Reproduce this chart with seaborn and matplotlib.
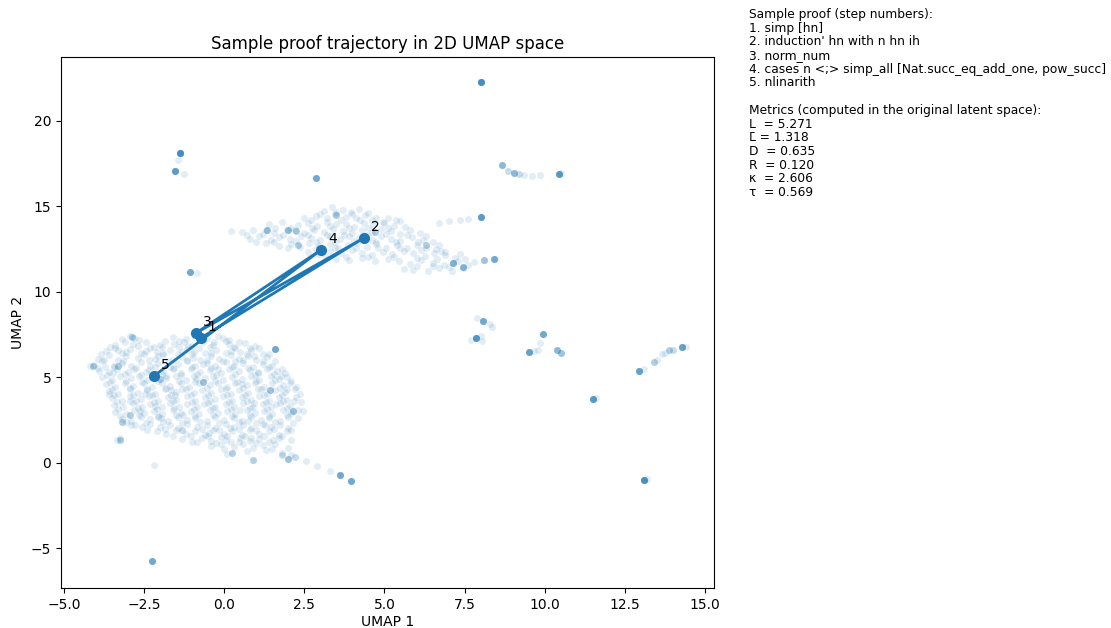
import numpy as np
import pandas as pd
import matplotlib
matplotlib.use("Agg")
import matplotlib.pyplot as plt
import seaborn as sns

# ---------------------------------------------------------------
# Embedded proof-state cloud (2D UMAP coordinates)
# ---------------------------------------------------------------
# Large lower-left cluster
cluster_lower = [
    (-2.95, 7.45), (-2.8, 7.3), (-1.6, 7.35), (-1.2, 7.25), (-0.9, 7.5), (-0.55, 7.3), (-0.2, 7.4), (0.15, 7.2),
    (-3.4, 6.9), (-3.1, 7.1), (-2.85, 6.95), (-2.45, 7.05), (-2.2, 6.8), (-1.85, 7.15), (-1.55, 6.95), (-1.25, 7.1),
    (-1.0, 6.85), (-0.65, 7.05), (-0.35, 6.9), (0.05, 7.15), (0.3, 6.8), (0.65, 7.0), (0.95, 6.85),
    (-3.7, 6.55), (-3.4, 6.75), (-3.2, 6.45), (-2.95, 6.65), (-2.6, 6.45), (-2.3, 6.75), (-2.1, 6.5), (-1.7, 6.6),
    (-1.45, 6.4), (-1.15, 6.65), (-0.8, 6.7), (-0.6, 6.45), (-0.25, 6.6), (0.05, 6.45), (0.35, 6.75), (0.5, 6.5),
    (0.85, 6.6), (1.2, 6.4),
    (-3.95, 6.1), (-3.6, 6.3), (-3.3, 6.05), (-3.05, 6.25), (-2.7, 6.15), (-2.5, 6.35), (-2.15, 6.1), (-1.9, 6.3),
    (-1.6, 6.0), (-1.3, 6.2), (-1.0, 6.35), (-0.75, 6.05), (-0.4, 6.25), (-0.15, 6.1), (0.2, 6.3), (0.45, 6.1),
    (0.75, 6.25), (1.0, 6.0), (1.35, 6.2),
    (-4.05, 5.75), (-3.8, 5.95), (-3.45, 5.7), (-3.2, 5.85), (-2.9, 5.65), (-2.6, 5.9), (-2.3, 5.7), (-2.05, 5.85),
    (-1.7, 5.6), (-1.45, 5.8), (-1.15, 5.95), (-0.9, 5.7), (-0.55, 5.85), (-0.3, 5.65), (0.05, 5.9), (0.3, 5.7),
    (0.6, 5.85), (0.9, 5.6), (1.2, 5.8), (1.5, 5.7),
    (-4.2, 5.65), (-3.9, 5.4), (-3.6, 5.3), (-3.35, 5.5), (-3.0, 5.3), (-2.8, 5.5), (-2.45, 5.3), (-1.9, 5.35),
    (-1.6, 5.5), (-1.35, 5.25), (-1.05, 5.5), (-0.75, 5.3), (-0.45, 5.45), (-0.1, 5.25), (0.15, 5.5), (0.45, 5.35),
    (0.8, 5.45), (1.05, 5.25), (1.35, 5.5), (1.65, 5.35),
    (-3.8, 5.0), (-3.5, 4.85), (-3.25, 5.1), (-2.9, 4.95), (-2.65, 5.1), (-2.4, 4.85), (-1.8, 4.95), (-1.5, 5.1),
    (-1.2, 4.85), (-0.95, 5.1), (-0.6, 4.95), (-0.35, 5.1), (-0.05, 4.85), (0.25, 5.05), (0.55, 4.9), (0.85, 5.1),
    (1.1, 4.85), (1.45, 5.1), (1.7, 4.9), (1.95, 5.05),
    (-3.7, 4.6), (-3.4, 4.45), (-3.1, 4.7), (-2.85, 4.5), (-2.5, 4.65), (-2.25, 4.45), (-1.95, 4.7), (-1.7, 4.5),
    (-1.35, 4.65), (-1.1, 4.45), (-0.8, 4.7), (-0.45, 4.55), (-0.2, 4.65), (0.1, 4.45), (0.35, 4.7), (0.7, 4.55),
    (0.95, 4.65), (1.25, 4.45), (1.5, 4.7), (1.85, 4.55), (2.05, 4.65),
    (-3.6, 4.2), (-3.3, 4.05), (-2.95, 4.3), (-2.7, 4.1), (-2.4, 4.25), (-2.15, 4.05), (-1.85, 4.3), (-1.5, 4.15),
    (-1.3, 4.3), (-0.95, 4.1), (-0.7, 4.25), (-0.4, 4.1), (-0.1, 4.3), (0.2, 4.05), (0.45, 4.25), (0.75, 4.1),
    (1.05, 4.3), (1.35, 4.05), (1.6, 4.25), (1.9, 4.15), (2.2, 4.3),
    (-3.5, 3.8), (-3.2, 3.65), (-2.95, 3.9), (-2.6, 3.75), (-2.35, 3.9), (-2.05, 3.65), (-1.75, 3.85), (-1.5, 3.7),
    (-1.15, 3.9), (-0.9, 3.65), (-0.6, 3.85), (-0.3, 3.75), (-0.05, 3.9), (0.25, 3.65), (0.55, 3.85), (0.85, 3.7),
    (1.1, 3.9), (1.4, 3.65), (1.7, 3.85), (1.95, 3.7), (2.25, 3.85),
    (-3.45, 3.4), (-3.15, 3.25), (-2.85, 3.5), (-2.55, 3.3), (-2.3, 3.45), (-1.95, 3.3), (-1.7, 3.5), (-1.4, 3.3),
    (-1.15, 3.45), (-0.85, 3.25), (-0.5, 3.5), (-0.3, 3.3), (0.05, 3.45), (0.3, 3.25), (0.6, 3.5), (0.9, 3.3),
    (1.2, 3.45), (1.45, 3.25), (1.75, 3.5), (2.05, 3.35), (2.3, 3.1),
    (-3.4, 3.0), (-3.05, 2.85), (-2.8, 3.1), (-2.5, 2.9), (-2.2, 3.05), (-1.95, 2.85), (-1.6, 3.1), (-1.35, 2.9),
    (-1.05, 3.05), (-0.8, 2.85), (-0.45, 3.1), (-0.2, 2.9), (0.1, 3.05), (0.35, 2.85), (0.7, 3.1), (0.95, 2.9),
    (1.25, 3.05), (1.5, 2.85), (1.85, 3.1), (2.1, 2.95),
    (-3.2, 2.6), (-2.9, 2.45), (-2.6, 2.7), (-2.3, 2.55), (-2.05, 2.7), (-1.75, 2.45), (-1.45, 2.7), (-1.15, 2.5),
    (-0.9, 2.65), (-0.55, 2.45), (-0.3, 2.7), (0.0, 2.5), (0.3, 2.65), (0.55, 2.45), (0.85, 2.7), (1.15, 2.5),
    (1.4, 2.65), (1.75, 2.45), (2.0, 2.7),
    (-2.9, 2.25), (-2.55, 2.1), (-2.3, 2.3), (-2.0, 2.1), (-1.7, 2.25), (-1.45, 2.05), (-1.15, 2.3), (-0.85, 2.1),
    (-0.55, 2.25), (-0.3, 2.05), (0.05, 2.3), (0.3, 2.1), (0.6, 2.25), (0.85, 2.05), (1.2, 2.3), (1.45, 2.1),
    (1.75, 2.25), (2.0, 2.05),
    (-2.1, 1.85), (-1.8, 1.7), (-1.5, 1.9), (-1.2, 1.7), (-0.9, 1.85), (-0.6, 1.65), (-0.35, 1.9), (0.0, 1.7),
    (0.25, 1.85), (0.55, 1.65), (0.8, 1.9), (1.1, 1.7), (1.4, 1.85), (1.7, 1.65), (1.95, 1.85),
    (-1.3, 1.4), (-1.0, 1.25), (-0.7, 1.45), (-0.4, 1.3), (-0.1, 1.5), (0.2, 1.25), (0.5, 1.45), (0.8, 1.3),
    (1.1, 1.4), (1.4, 1.25), (1.7, 1.45),
    (-0.4, 1.0), (-0.1, 1.1), (0.1, 0.55), (0.3, 0.95), (0.6, 1.1), (0.9, 0.85), (1.2, 1.05), (1.5, 0.8),
    (1.8, 0.6), (2.1, 0.45),
    (-3.35, 1.35), (-3.25, 1.45), (-2.2, -0.1),
    # interleaved samples
    (-3.2, 7.25), (-2.65, 7.2), (-1.4, 7.15), (-0.75, 7.2), (-0.05, 7.3), (0.45, 7.1),
    (-3.55, 6.8), (-2.7, 6.85), (-2.0, 6.9), (-1.4, 6.8), (-0.45, 6.8), (0.15, 6.95), (0.8, 6.75), (1.1, 6.7),
    (-3.85, 6.4), (-3.3, 6.6), (-2.45, 6.55), (-1.9, 6.45), (-1.3, 6.5), (-0.95, 6.5), (-0.4, 6.45), (0.2, 6.55),
    (0.7, 6.4), (1.4, 6.35),
    (-3.75, 6.05), (-3.15, 5.95), (-2.35, 6.0), (-1.75, 5.95), (-1.15, 6.05), (-0.55, 6.0), (-0.05, 5.95),
    (0.6, 6.05), (1.2, 5.95), (1.6, 5.95),
    (-3.95, 5.55), (-3.45, 5.6), (-2.75, 5.55), (-2.15, 5.6), (-1.55, 5.55), (-1.0, 5.6), (-0.4, 5.55),
    (0.25, 5.6), (0.75, 5.55), (1.4, 5.6), (1.8, 5.5),
    (-3.65, 5.15), (-3.1, 5.2), (-2.6, 5.15), (-1.95, 5.2), (-1.35, 5.15), (-0.85, 5.2), (-0.25, 5.15),
    (0.35, 5.2), (0.95, 5.15), (1.55, 5.2), (1.9, 5.25),
    (-3.55, 4.75), (-3.05, 4.8), (-2.55, 4.75), (-2.05, 4.8), (-1.4, 4.8), (-0.9, 4.75), (-0.3, 4.8),
    (0.4, 4.75), (1.0, 4.8), (1.6, 4.85), (2.1, 4.8),
    (-3.5, 4.35), (-2.95, 4.4), (-2.4, 4.35), (-1.8, 4.4), (-1.2, 4.35), (-0.55, 4.4), (0.05, 4.35),
    (0.6, 4.4), (1.15, 4.35), (1.75, 4.4), (2.25, 4.45),
    (-3.45, 3.95), (-2.85, 4.0), (-2.25, 3.95), (-1.65, 4.0), (-1.05, 3.95), (-0.5, 4.0), (0.1, 3.95),
    (0.65, 4.0), (1.25, 3.95), (1.8, 4.0), (2.35, 4.05),
    (-3.35, 3.55), (-2.75, 3.6), (-2.2, 3.55), (-1.6, 3.6), (-1.0, 3.55), (-0.45, 3.6), (0.15, 3.55),
    (0.7, 3.6), (1.3, 3.55), (1.85, 3.6), (2.4, 3.55),
    (-3.3, 3.15), (-2.7, 3.2), (-2.1, 3.15), (-1.55, 3.2), (-0.95, 3.15), (-0.35, 3.2), (0.2, 3.15),
    (0.8, 3.2), (1.35, 3.15), (1.95, 3.2), (2.45, 3.05),
    (-3.25, 2.75), (-2.65, 2.8), (-2.05, 2.75), (-1.5, 2.8), (-0.9, 2.75), (-0.35, 2.8), (0.25, 2.75),
    (0.8, 2.8), (1.4, 2.75), (1.95, 2.8), (2.3, 2.65),
    (-3.05, 2.4), (-2.45, 2.35), (-1.9, 2.4), (-1.3, 2.35), (-0.75, 2.4), (-0.15, 2.35), (0.45, 2.4),
    (1.0, 2.35), (1.6, 2.4), (2.15, 2.35),
    (-2.4, 1.95), (-1.85, 2.0), (-1.3, 1.95), (-0.7, 2.0), (-0.15, 1.95), (0.45, 2.0), (1.0, 1.95),
    (1.55, 2.0), (2.1, 1.9),
    (-1.6, 1.6), (-1.05, 1.55), (-0.5, 1.6), (0.1, 1.55), (0.65, 1.6), (1.25, 1.55), (1.8, 1.6), (2.1, 1.35),
    (-0.85, 1.2), (-0.25, 1.15), (0.45, 1.2), (1.0, 1.15), (1.6, 1.1), (2.0, 0.9),
    (0.0, 0.8), (0.7, 0.7), (1.3, 0.75),
    # scattered fill-in samples
    (-3.07, 6.48), (-2.33, 5.43), (-1.12, 6.82), (-0.18, 5.47), (0.93, 6.27), (-3.58, 4.02), (-2.17, 3.33),
    (-0.87, 4.93), (0.48, 3.07), (1.62, 3.43), (-2.77, 2.23), (-1.28, 2.83), (0.17, 2.02), (1.27, 2.23),
    (-1.93, 6.77), (-0.33, 7.07), (-3.47, 5.27), (-1.67, 4.27), (0.57, 4.63), (1.97, 4.33), (-2.47, 4.03),
    (-0.63, 3.43), (0.93, 3.53), (-1.97, 2.63), (-0.47, 1.77), (0.83, 1.47), (1.53, 1.33), (-2.93, 3.63),
    (-1.53, 3.97), (0.33, 5.97), (1.07, 5.33), (-3.73, 5.63), (-2.07, 6.23), (-0.97, 6.13), (1.77, 5.07),
    (2.17, 3.63), (-1.33, 1.93), (0.07, 1.33), (-2.63, 3.03), (-1.83, 5.07), (-0.67, 5.77), (0.73, 2.47),
]

# Elongated upper cluster
cluster_upper = [
    (3.1, 14.75), (3.35, 14.95), (3.7, 14.8), (3.95, 14.7), (4.2, 14.85), (4.5, 14.6),
    (2.5, 14.3), (2.85, 14.45), (3.2, 14.35), (3.45, 14.55), (3.8, 14.4), (4.1, 14.3), (4.4, 14.5), (4.75, 14.35),
    (5.1, 14.3), (5.35, 14.2),
    (1.4, 13.95), (1.8, 14.1), (2.3, 13.9), (2.6, 14.05), (2.9, 13.85), (3.2, 14.1), (3.5, 13.95), (3.8, 14.0),
    (4.05, 13.8), (4.35, 14.05), (4.65, 13.9), (4.95, 14.1), (5.3, 13.85), (5.5, 14.15),
    (0.2, 13.55), (0.55, 13.5), (0.9, 13.65), (1.3, 13.6), (1.55, 13.45), (1.95, 13.6), (2.2, 13.65), (2.5, 13.45),
    (2.8, 13.6), (3.1, 13.5), (3.4, 13.7), (3.7, 13.55), (4.0, 13.45), (4.3, 13.65), (4.6, 13.5), (4.9, 13.7),
    (5.2, 13.55), (5.5, 13.4), (5.8, 13.6), (6.1, 13.45),
    (0.8, 13.1), (1.1, 13.25), (1.45, 13.05), (1.7, 13.2), (2.05, 13.1), (2.4, 13.3), (2.7, 13.15), (3.0, 13.05),
    (3.3, 13.25), (3.6, 13.1), (3.9, 13.3), (4.2, 13.15), (4.6, 13.05), (4.9, 13.25), (5.2, 13.1), (5.5, 13.0),
    (5.85, 13.2), (6.2, 13.05), (6.5, 12.95),
    (1.3, 12.85), (1.7, 12.7), (2.1, 12.8), (2.35, 12.65), (2.65, 12.85), (2.95, 12.7), (3.3, 12.8), (3.55, 12.6),
    (3.85, 12.75), (4.15, 12.85), (4.45, 12.65), (4.75, 12.8), (5.05, 12.6), (5.4, 12.75), (5.7, 12.6), (6.0, 12.75),
    (6.3, 12.6), (6.6, 12.5), (6.9, 12.35),
    (2.6, 12.35), (2.95, 12.2), (3.3, 12.4), (3.65, 12.25), (4.0, 12.45), (4.3, 12.3), (4.6, 12.15), (4.95, 12.35),
    (5.25, 12.2), (5.6, 12.4), (5.9, 12.25), (6.25, 12.1), (6.55, 12.3), (6.9, 12.15), (7.2, 12.0), (7.5, 11.95),
    (3.5, 11.95), (3.9, 11.85), (4.3, 12.0), (4.7, 11.8), (5.1, 11.95), (5.45, 11.8), (5.8, 11.65), (6.15, 11.85),
    (6.5, 11.7), (6.85, 11.55), (7.15, 11.7), (7.45, 11.4), (7.8, 11.75), (8.1, 11.85), (8.45, 11.95),
    (5.6, 11.35), (6.0, 11.5), (6.35, 11.25), (6.7, 11.4), (7.1, 11.2), (7.6, 11.6),
    (6.7, 14.05), (7.0, 14.15), (7.35, 14.2), (7.6, 14.25),
    # interleaved samples
    (3.5, 14.65), (3.0, 14.55), (4.0, 14.55), (4.6, 14.2), (2.7, 14.2), (3.65, 14.2), (4.25, 14.2), (5.0, 14.05),
    (1.6, 13.75), (2.1, 13.75), (2.75, 13.75), (3.3, 13.85), (3.9, 13.75), (4.5, 13.75), (5.1, 13.75), (5.65, 13.8),
    (0.7, 13.35), (1.2, 13.4), (1.85, 13.35), (2.6, 13.35), (3.2, 13.35), (3.75, 13.35), (4.45, 13.35), (5.05, 13.4),
    (5.7, 13.35), (6.3, 13.3), (1.0, 12.95), (1.55, 12.95), (2.25, 13.0), (2.85, 12.95), (3.45, 12.95), (4.05, 13.0),
    (4.75, 12.95), (5.35, 12.9), (6.05, 12.95), (6.7, 12.75), (2.0, 12.55), (2.85, 12.5), (3.45, 12.55), (4.1, 12.6),
    (4.8, 12.55), (5.5, 12.55), (6.15, 12.45), (6.75, 12.4), (7.35, 12.2), (3.15, 12.1), (3.8, 12.05), (4.5, 12.05),
    (5.3, 12.05), (6.0, 12.0), (6.65, 11.95), (7.3, 11.8), (5.9, 11.3), (6.5, 11.5), (7.0, 11.45),
]

# Repeated states (x, y, number of coincident samples)
repeated_states = [
    (8.01, 22.3, 12), (-1.38, 18.1, 12), (-1.45, 17.7, 1), (-1.54, 17.1, 9), (-1.25, 16.9, 1),
    (2.86, 16.67, 7), (8.67, 17.43, 5), (8.85, 17.05, 2), (9.05, 16.95, 5), (9.2, 16.9, 2),
    (9.35, 16.85, 1), (9.6, 16.8, 1), (9.85, 16.85, 1), (10.44, 16.9, 9), (10.5, 16.95, 1),
    (8.01, 14.39, 9), (8.1, 11.85, 3), (8.42, 11.93, 6), (7.14, 11.7, 5), (7.45, 11.45, 5),
    (8.07, 8.3, 7), (7.9, 8.45, 1), (8.3, 8.15, 1), (8.35, 7.95, 1),
    (7.85, 7.31, 10), (7.7, 7.2, 1), (8.0, 7.4, 1), (8.05, 7.15, 1),
    (9.5, 6.49, 8), (9.65, 6.55, 1), (9.79, 6.6, 1), (9.85, 7.0, 1), (9.95, 7.54, 7),
    (10.38, 6.6, 5), (10.5, 6.45, 4), (11.5, 3.74, 9), (11.6, 3.8, 1),
    (13.1, -1.0, 11), (13.2, -0.95, 1),
    (12.94, 5.38, 8), (13.1, 5.5, 1), (13.4, 5.9, 3), (13.5, 6.05, 1), (13.66, 6.4, 1), (13.75, 6.45, 1),
    (13.88, 6.6, 3), (14.0, 6.62, 2), (14.28, 6.78, 8), (14.4, 6.8, 1),
    (-1.07, 11.17, 7), (-0.85, 11.1, 1), (1.58, 6.67, 7), (-2.25, -5.73, 7),
    (3.61, -0.70, 7), (3.95, -1.05, 7), (3.3, -0.45, 1), (2.9, -0.15, 1), (2.55, 0.1, 1),
    (2.2, 0.35, 2), (1.8, 0.45, 2),
    (-4.1, 5.67, 3), (-2.88, 7.37, 3), (-3.3, 5.7, 3), (-0.66, 4.74, 4), (1.43, 4.27, 4),
    (2.15, 3.04, 4), (-2.94, 2.8, 3), (-3.19, 2.4, 3), (-3.25, 1.35, 3), (0.24, 0.58, 3),
    (1.99, 0.23, 4), (0.9, 0.2, 3), (-2.0, 4.9, 3), (1.35, 13.6, 4), (2.0, 13.6, 4),
    (2.25, 13.55, 3), (3.5, 14.5, 3), (4.7, 13.5, 3), (6.3, 12.75, 3), (2.3, 12.75, 3),
]

# Sample proof trajectory (one point per tactic step)
step_ids = [1, 2, 3, 4, 5]
step_umap1 = [-0.73, 4.36, -0.88, 3.02, -2.19]
step_umap2 = [7.31, 13.16, 7.60, 12.46, 5.09]
step_tactics = [
    "simp [hn]",
    "induction' hn with n hn ih",
    "norm_num",
    "cases n <;> simp_all [Nat.succ_eq_add_one, pow_succ]",
    "nlinarith",
]

metric_names = ["L", "L\u0304", "D", "R", "\u03ba", "\u03c4"]
metric_values = [5.271, 1.318, 0.635, 0.120, 2.606, 0.569]

# ---------------------------------------------------------------
# Assemble the point cloud
# ---------------------------------------------------------------
rep = pd.DataFrame(repeated_states, columns=["umap1", "umap2", "n"])
rep = rep.loc[rep.index.repeat(rep["n"])].drop(columns="n")
cloud = pd.concat(
    [
        pd.DataFrame(cluster_lower, columns=["umap1", "umap2"]),
        pd.DataFrame(cluster_upper, columns=["umap1", "umap2"]),
        rep,
    ],
    ignore_index=True,
)
traj = pd.DataFrame({"step": step_ids, "umap1": step_umap1, "umap2": step_umap2})

fig = plt.figure(figsize=(11.11, 6.28), dpi=100)
ax = fig.add_axes([61 / 1111, 1 - 588 / 628, 653 / 1111, 531 / 628])

sns.scatterplot(data=cloud, x="umap1", y="umap2", ax=ax, color="C0",
                alpha=0.13, s=25, linewidth=0, legend=False)

ax.plot(traj["umap1"], traj["umap2"], "-o", color="C0", linewidth=2, markersize=7)
for _, r in traj.iterrows():
    ax.annotate(str(int(r["step"])), (r["umap1"], r["umap2"]),
                textcoords="offset points", xytext=(5, 5), fontsize=10)

ax.set_xlim(-5.09, 15.28)
ax.set_ylim(-7.31, 23.74)
ax.set_xlabel("UMAP 1", labelpad=2)
ax.set_ylabel("UMAP 2")
ax.set_title("Sample proof trajectory in 2D UMAP space")

lines = ["Sample proof (step numbers):"]
lines += [f"{i}. {t}" for i, t in zip(step_ids, step_tactics)]
lines += ["", "Metrics (computed in the original latent space):"]
lines += [f"{n:<3}= {v:.3f}" for n, v in zip(metric_names, metric_values)]
fig.text(749 / 1111, 1 - 8 / 628, "\n".join(lines), ha="left", va="top",
         fontsize=8.85, linespacing=1.07)

fig.savefig("out.png", dpi=100)
